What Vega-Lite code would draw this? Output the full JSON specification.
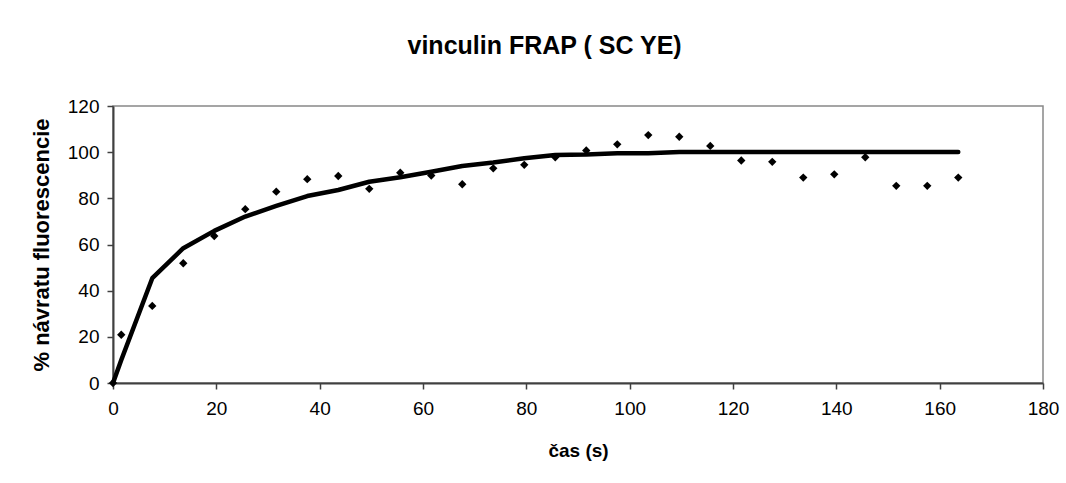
{
  "$schema": "https://vega.github.io/schema/vega-lite/v6.json",
  "autosize": "none",
  "width": 930,
  "height": 277,
  "padding": {"left": 113, "top": 106, "right": 23, "bottom": 100},
  "background": "white",
  "title": {
    "text": "vinculin FRAP ( SC YE)",
    "font": "Liberation Sans",
    "fontSize": 25,
    "fontWeight": "bold",
    "color": "black",
    "anchor": "middle",
    "frame": "bounds",
    "offset": 38
  },
  "config": {
    "view": {"stroke": "#888888", "strokeWidth": 1.5},
    "axis": {
      "labelFont": "Liberation Sans",
      "labelFontSize": 19,
      "labelColor": "black",
      "titleFont": "Liberation Sans",
      "titleFontWeight": "bold",
      "titleColor": "black",
      "domainColor": "#404040",
      "domainWidth": 2,
      "tickColor": "#404040",
      "tickWidth": 1.5,
      "tickSize": 6,
      "grid": false
    }
  },
  "data": {
    "values": [
      {"t": 0, "obs": 0, "fit": 0},
      {"t": 1.6, "obs": 20.9, "fit": 10},
      {"t": 7.6, "obs": 33.4, "fit": 45.4},
      {"t": 13.6, "obs": 51.9, "fit": 58.4},
      {"t": 19.6, "obs": 63.7, "fit": 65.9},
      {"t": 25.6, "obs": 75.3, "fit": 72.1},
      {"t": 31.6, "obs": 82.9, "fit": 76.7},
      {"t": 37.6, "obs": 88.3, "fit": 81.0},
      {"t": 43.6, "obs": 89.7, "fit": 83.6},
      {"t": 49.6, "obs": 84.1, "fit": 87.2},
      {"t": 55.6, "obs": 91.1, "fit": 89.1},
      {"t": 61.6, "obs": 89.9, "fit": 91.5},
      {"t": 67.6, "obs": 86.1, "fit": 94.0},
      {"t": 73.6, "obs": 93.0, "fit": 95.5},
      {"t": 79.6, "obs": 94.5, "fit": 97.4},
      {"t": 85.6, "obs": 97.8, "fit": 98.8},
      {"t": 91.6, "obs": 100.7, "fit": 99.0},
      {"t": 97.6, "obs": 103.4, "fit": 99.5},
      {"t": 103.6, "obs": 107.4, "fit": 99.5},
      {"t": 109.6, "obs": 106.7, "fit": 100.1},
      {"t": 115.6, "obs": 102.7, "fit": 100.1},
      {"t": 121.6, "obs": 96.4, "fit": 100.1},
      {"t": 127.6, "obs": 95.8, "fit": 100.1},
      {"t": 133.6, "obs": 89.0, "fit": 100.1},
      {"t": 139.6, "obs": 90.4, "fit": 100.1},
      {"t": 145.6, "obs": 97.8, "fit": 100.1},
      {"t": 151.6, "obs": 85.4, "fit": 100.1},
      {"t": 157.6, "obs": 85.4, "fit": 100.1},
      {"t": 163.6, "obs": 89.0, "fit": 100.1}
    ]
  },
  "encoding": {
    "x": {
      "field": "t",
      "type": "quantitative",
      "scale": {"domain": [0, 180], "nice": false, "zero": false},
      "axis": {
        "title": "čas (s)",
        "titleFontSize": 19,
        "values": [0, 20, 40, 60, 80, 100, 120, 140, 160, 180],
        "labelPadding": 10,
        "titlePadding": 23,
        "labelFlush": false
      }
    }
  },
  "layer": [
    {
      "mark": {"type": "line", "color": "black", "strokeWidth": 4.5, "strokeCap": "round", "strokeJoin": "round"},
      "encoding": {
        "y": {
          "field": "fit",
          "type": "quantitative",
          "scale": {"domain": [0, 120], "nice": false},
          "axis": {
            "title": "% návratu fluorescencie",
            "titleFontSize": 22,
            "values": [0, 20, 40, 60, 80, 100, 120],
            "labelPadding": 8,
            "titlePadding": 14,
            "labelFlush": false
          }
        }
      }
    },
    {
      "mark": {"type": "point", "shape": "diamond", "filled": true, "color": "black", "size": 70, "opacity": 1},
      "encoding": {
        "y": {"field": "obs", "type": "quantitative"}
      }
    }
  ]
}
